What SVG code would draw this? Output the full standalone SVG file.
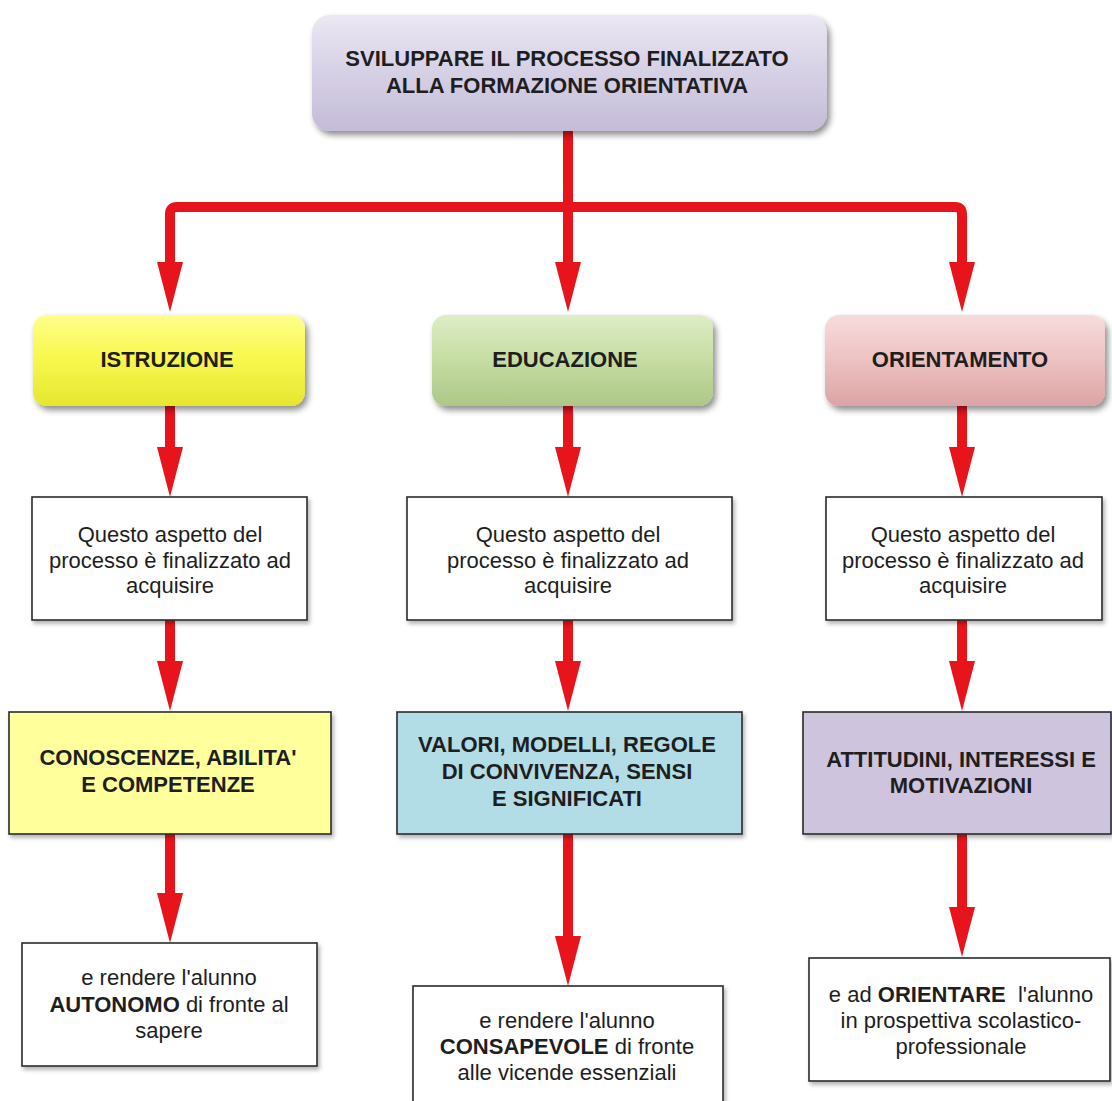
<svg xmlns="http://www.w3.org/2000/svg" width="1112" height="1101" viewBox="0 0 1112 1101">
<style>
  .t { font-family: "Liberation Sans", Arial, sans-serif; font-size: 22px; fill: #1e1e1e; text-anchor: middle; }
  .b { font-weight: bold; }
  .box { stroke: #2a2a2a; stroke-width: 1.6; }
  .rbox { stroke: none; }
  .conn { fill: none; stroke: #e8141c; stroke-width: 10; marker-end: url(#ah); }
</style>
<defs>
  <marker id="ah" markerUnits="userSpaceOnUse" viewBox="0 0 50 26" markerWidth="50" markerHeight="26" refX="0" refY="13" orient="auto">
    <path d="M0,0 L50,13 L0,26 z" fill="#e8141c"/>
  </marker>
  <filter id="sh" x="-10%" y="-10%" width="125%" height="135%">
    <feDropShadow dx="3" dy="4" stdDeviation="3" flood-color="#000" flood-opacity="0.45"/>
  </filter>
  <filter id="sh2" x="-10%" y="-10%" width="125%" height="135%">
    <feDropShadow dx="2" dy="3" stdDeviation="2" flood-color="#000" flood-opacity="0.3"/>
  </filter>
  <linearGradient id="gPurple" x1="0" y1="0" x2="0" y2="1">
    <stop offset="0" stop-color="#ece8f3"/>
    <stop offset="0.45" stop-color="#d8d2e7"/>
    <stop offset="1" stop-color="#c4bcd8"/>
  </linearGradient>
  <linearGradient id="gYellow" x1="0" y1="0" x2="0" y2="1">
    <stop offset="0" stop-color="#ffff8c"/>
    <stop offset="0.45" stop-color="#f8f850"/>
    <stop offset="1" stop-color="#e6e630"/>
  </linearGradient>
  <linearGradient id="gGreen" x1="0" y1="0" x2="0" y2="1">
    <stop offset="0" stop-color="#deedc6"/>
    <stop offset="0.45" stop-color="#c8dea6"/>
    <stop offset="1" stop-color="#adc886"/>
  </linearGradient>
  <linearGradient id="gPink" x1="0" y1="0" x2="0" y2="1">
    <stop offset="0" stop-color="#f7dcdc"/>
    <stop offset="0.45" stop-color="#eec4c4"/>
    <stop offset="1" stop-color="#dca4a4"/>
  </linearGradient>
</defs>

<g id="connectors">
  <path class="conn" d="M568,128 V262"/>
  <path class="conn" d="M568,207 H177 Q170,207 170,214 V262"/>
  <path class="conn" d="M568,207 H955 Q962,207 962,214 V262"/>
  <path class="conn" d="M170,405 V447"/>
  <path class="conn" d="M568,405 V447"/>
  <path class="conn" d="M962,405 V447"/>
  <path class="conn" d="M170,620 V661"/>
  <path class="conn" d="M568,620 V661"/>
  <path class="conn" d="M962,620 V661"/>
  <path class="conn" d="M170,834 V893"/>
  <path class="conn" d="M568,834 V936"/>
  <path class="conn" d="M962,834 V907"/>
</g>

<g id="n-root">
  <rect class="rbox" x="312" y="15" width="515" height="116" rx="18" fill="url(#gPurple)" filter="url(#sh)"/>
  <text class="t b" x="567" y="66">SVILUPPARE IL PROCESSO FINALIZZATO</text>
  <text class="t b" x="567" y="93">ALLA FORMAZIONE ORIENTATIVA</text>
</g>

<g id="n-istruzione">
  <rect class="rbox" x="33" y="315" width="272" height="91" rx="14" fill="url(#gYellow)" filter="url(#sh)"/>
  <text class="t b" x="167" y="367">ISTRUZIONE</text>
</g>
<g id="n-educazione">
  <rect class="rbox" x="432" y="315" width="281" height="91" rx="14" fill="url(#gGreen)" filter="url(#sh)"/>
  <text class="t b" x="565" y="367">EDUCAZIONE</text>
</g>
<g id="n-orientamento">
  <rect class="rbox" x="825" y="315" width="280" height="91" rx="14" fill="url(#gPink)" filter="url(#sh)"/>
  <text class="t b" x="960" y="367">ORIENTAMENTO</text>
</g>

<g id="n-q1">
  <rect class="box" x="32" y="497" width="275" height="123" fill="#ffffff" filter="url(#sh2)"/>
  <text class="t" x="170" y="542">Questo aspetto del</text>
  <text class="t" x="170" y="568">processo è finalizzato ad</text>
  <text class="t" x="170" y="593">acquisire</text>
</g>
<g id="n-q2">
  <rect class="box" x="407" y="497" width="325" height="123" fill="#ffffff" filter="url(#sh2)"/>
  <text class="t" x="568" y="542">Questo aspetto del</text>
  <text class="t" x="568" y="568">processo è finalizzato ad</text>
  <text class="t" x="568" y="593">acquisire</text>
</g>
<g id="n-q3">
  <rect class="box" x="826" y="497" width="276" height="123" fill="#ffffff" filter="url(#sh2)"/>
  <text class="t" x="963" y="542">Questo aspetto del</text>
  <text class="t" x="963" y="568">processo è finalizzato ad</text>
  <text class="t" x="963" y="593">acquisire</text>
</g>

<g id="n-conoscenze">
  <rect class="box" x="9" y="712" width="322" height="122" fill="#ffff9c" filter="url(#sh2)"/>
  <text class="t b" x="168" y="765">CONOSCENZE, ABILITA'</text>
  <text class="t b" x="168" y="792">E COMPETENZE</text>
</g>
<g id="n-valori">
  <rect class="box" x="397" y="712" width="345" height="122" fill="#b2dce6" filter="url(#sh2)"/>
  <text class="t b" x="567" y="752">VALORI, MODELLI, REGOLE</text>
  <text class="t b" x="567" y="779">DI CONVIVENZA, SENSI</text>
  <text class="t b" x="567" y="806">E SIGNIFICATI</text>
</g>
<g id="n-attitudini">
  <rect class="box" x="803" y="712" width="308" height="122" fill="#cec4dd" filter="url(#sh2)"/>
  <text class="t b" x="961" y="767">ATTITUDINI, INTERESSI E</text>
  <text class="t b" x="961" y="793">MOTIVAZIONI</text>
</g>

<g id="n-autonomo">
  <rect class="box" x="22" y="943" width="295" height="123" fill="#ffffff" filter="url(#sh2)"/>
  <text class="t" x="169" y="985">e rendere l'alunno</text>
  <text class="t" x="169" y="1012"><tspan class="b">AUTONOMO</tspan> di fronte al</text>
  <text class="t" x="169" y="1038">sapere</text>
</g>
<g id="n-consapevole">
  <rect class="box" x="413" y="986" width="310" height="125" fill="#ffffff" filter="url(#sh2)"/>
  <text class="t" x="567" y="1028">e rendere l'alunno</text>
  <text class="t" x="567" y="1054"><tspan class="b">CONSAPEVOLE</tspan> di fronte</text>
  <text class="t" x="567" y="1080">alle vicende essenziali</text>
</g>
<g id="n-orientare">
  <rect class="box" x="809" y="958" width="301" height="123" fill="#ffffff" filter="url(#sh2)"/>
  <text class="t" x="961" y="1002" xml:space="preserve">e ad <tspan class="b">ORIENTARE</tspan>  l'alunno</text>
  <text class="t" x="961" y="1028">in prospettiva scolastico-</text>
  <text class="t" x="961" y="1054">professionale</text>
</g>
</svg>
